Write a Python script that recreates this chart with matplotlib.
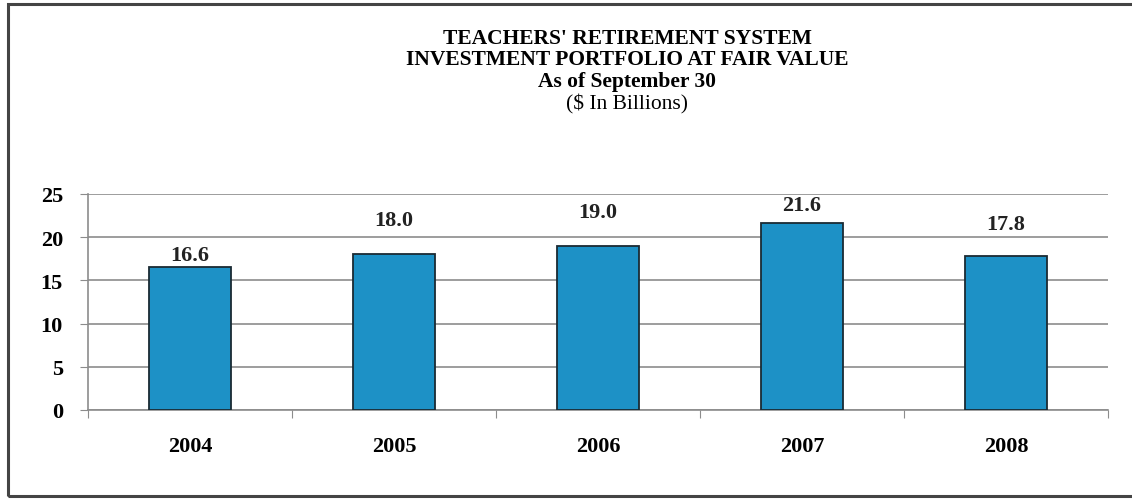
import matplotlib.pyplot as plt
from matplotlib.patches import Rectangle
import numpy as np

years = ["2004", "2005", "2006", "2007", "2008"]
values = [16.6, 18.0, 19.0, 21.6, 17.8]
value_labels = ["16.6", "18.0", "19.0", "21.6", "17.8"]
# label offset above each bar top, in points
label_offsets = [8.5, 25, 24.5, 13.5, 23.5]

title_lines = [
    "TEACHERS' RETIREMENT SYSTEM",
    "INVESTMENT PORTFOLIO AT FAIR VALUE",
    "As of September 30",
]
subtitle = "($ In Billions)"

plt.rcParams["font.family"] = ["Liberation Serif", "DejaVu Serif"]

fig = plt.figure(figsize=(11.32, 5.02), dpi=100)
W, H = 1132, 502

# frame around the whole exhibit
frame = Rectangle((8 / W, 5 / H), 1.2, (497 - 5) / H, transform=fig.transFigure,
                  fill=False, edgecolor="#444444", linewidth=2.2)
fig.patches.append(frame)

title_y = [39, 60, 82]
for line, y in zip(title_lines, title_y):
    fig.text(627 / W, 1 - y / H, line, ha="center", va="center",
             fontsize=15.5, fontweight="bold")
fig.text(627 / W, 1 - 104 / H, subtitle, ha="center", va="center", fontsize=15.5)

ax = fig.add_axes([88 / W, (H - 411) / H, (1108 - 88) / W, (411 - 195) / H])
x = np.arange(len(years))
bars = ax.bar(x, values, width=0.4, color="#1d91c6", edgecolor="#1a2a33",
              linewidth=1.3, zorder=3)

for bar, lab, off in zip(bars, value_labels, label_offsets):
    ax.annotate(lab, (bar.get_x() + bar.get_width() / 2, bar.get_height()),
                xytext=(0, off), textcoords="offset points", ha="center",
                va="center", fontsize=16, fontweight="bold", color="#222222")

ax.set_xlim(-0.5, len(years) - 0.5)
ax.set_ylim(0, 25)
ax.set_yticks(np.arange(0, 26, 5))
ax.yaxis.grid(True, color="#8c8c8c", linewidth=1.2, zorder=0)
ax.set_axisbelow(True)

ax.set_xticks(np.arange(-0.5, len(years), 1.0))
ax.set_xticklabels([])
ax.set_xticks(x, minor=True)
ax.set_xticklabels(years, minor=True)
ax.tick_params(axis="x", which="major", length=6, color="#8c8c8c")
ax.tick_params(axis="x", which="minor", length=0, pad=19, labelsize=16)
ax.tick_params(axis="y", length=6, color="#8c8c8c", pad=12, labelsize=16)
for lab in ax.get_xticklabels(minor=True) + ax.get_yticklabels():
    lab.set_fontweight("bold")

for side in ["top", "right"]:
    ax.spines[side].set_visible(False)
for side in ["left", "bottom"]:
    ax.spines[side].set_color("#8c8c8c")
    ax.spines[side].set_linewidth(1.2)

fig.savefig("out.png", dpi=100)
